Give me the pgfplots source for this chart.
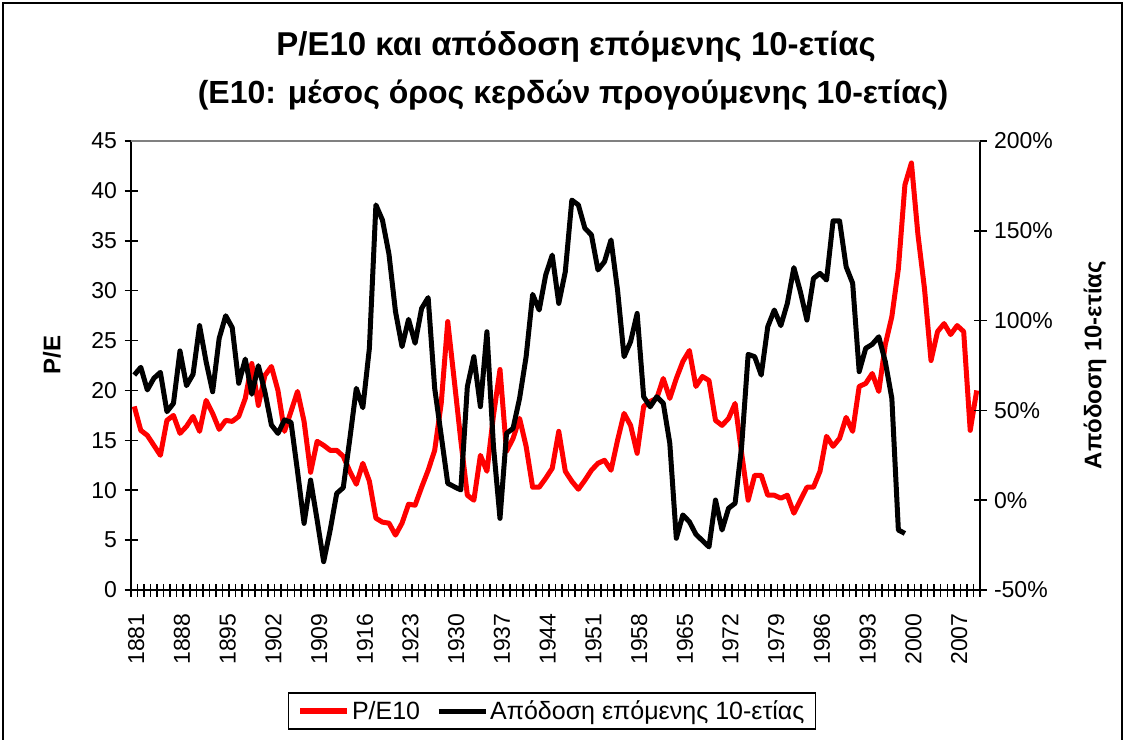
\documentclass[border=0pt]{standalone}
\usepackage{fontspec}
\setmainfont{Liberation Sans}
\usepackage{pgfplots}
\pgfplotsset{compat=1.18}
\pgfplotsset{/pgf/number format/1000 sep={}, /pgf/number format/assume math mode=true}
\newcommand\tickfont{\fontsize{23bp}{26bp}\selectfont}

\begin{document}
\begin{tikzpicture}[x=1bp,y=1bp]
\useasboundingbox (0bp,0bp) rectangle (1126bp,-740bp);
% chart frame
\draw[line width=1.5bp] (3bp,-800bp) -- (3bp,-3bp) -- (1122bp,-3bp) -- (1122bp,-800bp);

% titles
\node[font=\fontsize{33bp}{36bp}\selectfont\bfseries] at (576bp,-47bp) {P/E10 και απόδοση επόμενης 10-ετίας};
\node[font=\fontsize{32bp}{36bp}\selectfont\bfseries] at (573bp,-95bp) {(Ε10: μέσος όρος κερδών προγούμενης 10-ετίας)};

\pgfplotsset{common/.style={
  at={(131bp,-590bp)}, anchor=south west,
  scale only axis, width=849bp, height=449bp,
  xmin=1880.5, xmax=2010.5,
  axis line style={-, line width=1.5bp, black},
  tick style={line width=1.5bp, black},
  tick align=center, major tick length=13bp,
  ticklabel style={font=\tickfont},
}}

% P/E10, left axis
\begin{axis}[common,
  ymin=0, ymax=45,
  axis x line*=bottom, axis y line*=left,
  ytick={0,5,...,45},
  yticklabel style={xshift=-4bp},
  xtick={1880.5,1881.5,...,2010.5},
  xticklabels={},
  extra x ticks={1881,1888,...,2007},
  extra x tick style={major tick length=0bp,
    xticklabel style={rotate=90, anchor=east, xshift=-20bp, yshift=-2bp}},
]
\addplot[color={rgb,255:red,255;green,0;blue,0}, line width=5bp, line join=round] coordinates {
(1881,18.4) (1882,16.0) (1883,15.5) (1884,14.5) (1885,13.5) (1886,17.0) (1887,17.5) (1888,15.7)
(1889,16.4) (1890,17.4) (1891,15.9) (1892,19.0) (1893,17.7) (1894,16.1) (1895,17.0) (1896,16.9)
(1897,17.4) (1898,19.2) (1899,22.7) (1900,18.5) (1901,21.5) (1902,22.4) (1903,20.0) (1904,15.9)
(1905,17.9) (1906,19.9) (1907,16.9) (1908,11.8) (1909,14.9) (1910,14.5) (1911,14.0) (1912,14.0)
(1913,13.4) (1914,11.9) (1915,10.6) (1916,12.7) (1917,10.9) (1918,7.2) (1919,6.8) (1920,6.7)
(1921,5.5) (1922,6.7) (1923,8.6) (1924,8.5) (1925,10.3) (1926,12.0) (1927,14.0) (1928,18.7)
(1929,26.9) (1930,21.0) (1931,15.0) (1932,9.5) (1933,9.0) (1934,13.5) (1935,11.9) (1936,17.5)
(1937,22.1) (1938,13.9) (1939,15.2) (1940,17.2) (1941,14.4) (1942,10.3) (1943,10.3) (1944,11.2)
(1945,12.2) (1946,15.9) (1947,11.9) (1948,10.9) (1949,10.1) (1950,11.0) (1951,12.0) (1952,12.7)
(1953,13.0) (1954,12.0) (1955,15.0) (1956,17.7) (1957,16.5) (1958,13.7) (1959,18.4) (1960,18.9)
(1961,19.2) (1962,21.2) (1963,19.2) (1964,21.2) (1965,22.9) (1966,24.0) (1967,20.4) (1968,21.4)
(1969,21.0) (1970,17.0) (1971,16.5) (1972,17.2) (1973,18.7) (1974,13.7) (1975,9.0) (1976,11.5)
(1977,11.5) (1978,9.5) (1979,9.5) (1980,9.2) (1981,9.5) (1982,7.7) (1983,9.0) (1984,10.3)
(1985,10.3) (1986,11.9) (1987,15.4) (1988,14.4) (1989,15.2) (1990,17.3) (1991,15.9) (1992,20.4)
(1993,20.7) (1994,21.7) (1995,19.9) (1996,24.6) (1997,27.4) (1998,32.2) (1999,40.6) (2000,42.8)
(2001,35.6) (2002,30.2) (2003,23.0) (2004,25.9) (2005,26.7) (2006,25.6) (2007,26.5) (2008,25.9)
(2009,16.0) (2010,20.0)
};
\end{axis}

% return over next 10 years, right axis
\begin{axis}[common,
  ymin=-50, ymax=200,
  axis x line=none, axis y line*=right,
  ytick={-50,0,...,200},
  yticklabel={\pgfmathprintnumber{\tick}\%},
  yticklabel style={xshift=4bp},
  legend columns=2,
  legend style={at={(axis description cs:0.4959,-0.2695)}, anchor=center,
    draw=black, line width=1.5bp, font=\fontsize{25bp}{28bp}\selectfont,
    inner xsep=9bp, inner ysep=6bp,
    /tikz/every even column/.append style={column sep=14bp}},
  legend image code/.code={\draw[#1] (0bp,0bp) -- (47bp,0bp);},
]
\addlegendimage{color={rgb,255:red,255;green,0;blue,0}, line width=5.5bp}
\addlegendentry{P/E10}
\addplot[black, line width=5bp, line join=round] coordinates {
(1881,69.7) (1882,74.0) (1883,61.4) (1884,67.9) (1885,71.2) (1886,49.3) (1887,53.9) (1888,83.1)
(1889,63.8) (1890,70.1) (1891,97.2) (1892,77.1) (1893,60.4) (1894,90.1) (1895,102.7) (1896,96.1)
(1897,65.1) (1898,78.6) (1899,59.0) (1900,74.9) (1901,60.4) (1902,41.9) (1903,37.2) (1904,44.7)
(1905,43.4) (1906,16.0) (1907,-12.9) (1908,11.2) (1909,-11.0) (1910,-34.2) (1911,-16.6) (1912,3.8)
(1913,7.0) (1914,34.0) (1915,62.3) (1916,51.5) (1917,84.6) (1918,164.4) (1919,156.0) (1920,137.0)
(1921,105.0) (1922,85.5) (1923,100.7) (1924,87.4) (1925,106.8) (1926,112.8) (1927,62.3) (1928,36.0)
(1929,9.4) (1930,7.5) (1931,5.7) (1932,63.2) (1933,79.9) (1934,52.1) (1935,93.8) (1936,30.0)
(1937,-10.1) (1938,37.2) (1939,40.0) (1940,56.7) (1941,79.9) (1942,114.6) (1943,105.9) (1944,125.4)
(1945,136.5) (1946,109.6) (1947,127.2) (1948,167.1) (1949,164.4) (1950,151.4) (1951,147.7) (1952,128.2)
(1953,132.8) (1954,144.9) (1955,117.0) (1956,79.9) (1957,88.3) (1958,104.0) (1959,57.6) (1960,52.0)
(1961,57.6) (1962,54.0) (1963,31.7) (1964,-21.2) (1965,-8.2) (1966,-12.0) (1967,-19.0) (1968,-22.5)
(1969,-26.0) (1970,0.1) (1971,-16.6) (1972,-4.5) (1973,-1.7) (1974,30.0) (1975,81.2) (1976,79.9)
(1977,69.7) (1978,96.6) (1979,105.9) (1980,97.2) (1981,109.6) (1982,129.5) (1983,116.0) (1984,100.3)
(1985,123.5) (1986,126.3) (1987,122.6) (1988,155.5) (1989,155.5) (1990,130.0) (1991,120.8) (1992,71.6)
(1993,84.6) (1994,86.8) (1995,91.0) (1996,77.1) (1997,56.7) (1998,-16.6) (1999,-18.5)
};
\addlegendentry{Απόδοση επόμενης 10-ετίας}
\end{axis}

% plot area top border
\draw[gray, line width=1.5bp] (131bp,-141bp) -- (980bp,-141bp);

% axis titles
\node[rotate=90, font=\fontsize{24bp}{28bp}\selectfont\bfseries] at (52bp,-355bp) {P/E};
\node[rotate=90, font=\fontsize{24bp}{28bp}\selectfont\bfseries] at (1095bp,-365bp) {Απόδοση 10-ετίας};
\end{tikzpicture}
\end{document}
